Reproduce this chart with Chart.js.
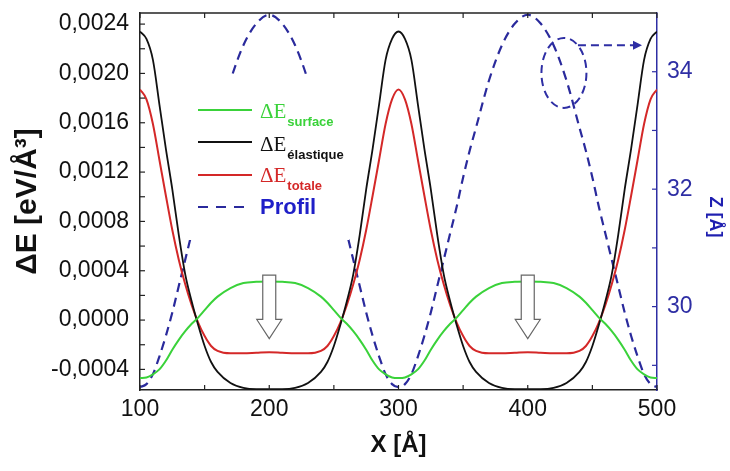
<!DOCTYPE html>
<html>
<head>
<meta charset="utf-8">
<script src="https://cdn.jsdelivr.net/npm/chart.js@4.4.1/dist/chart.umd.min.js"></script>
<style>
  body { margin: 0; background: #fff; }
  canvas { display: block; }
</style>
</head>
<body>
<canvas id="chart" width="730" height="471"></canvas>
<script>
// positions le long de X [Å]
var xs = [100, 105, 110, 115, 120, 125, 130, 135, 140, 145, 150, 155, 160, 170, 180, 190,
          200, 210, 220, 230, 240, 245, 250, 255, 260, 265, 270, 275, 280, 285, 290, 295,
          300, 305, 310, 315, 320, 325, 330, 335, 340, 345, 350, 355, 360, 370, 380, 390,
          400, 410, 420, 430, 440, 445, 450, 455, 460, 465, 470, 475, 480, 485, 490, 495, 500];

// ΔE surface [eV/Å3]
var eSurface = [-0.00047, -0.000465, -0.00044, -0.0004, -0.00033, -0.00024, -0.00016, -0.00009, -0.00003, 0.00002, 0.00008, 0.00014, 0.00019, 0.00026, 0.0003, 0.00031,
                0.000312, 0.00031, 0.0003, 0.00026, 0.00019, 0.00014, 0.00008, 0.00002, -0.00003, -0.00009, -0.00016, -0.00024, -0.00033, -0.0004, -0.00044, -0.000465,
                -0.00047, -0.000465, -0.00044, -0.0004, -0.00033, -0.00024, -0.00016, -0.00009, -0.00003, 0.00002, 0.00008, 0.00014, 0.00019, 0.00026, 0.0003, 0.00031,
                0.000312, 0.00031, 0.0003, 0.00026, 0.00019, 0.00014, 0.00008, 0.00002, -0.00003, -0.00009, -0.00016, -0.00024, -0.00033, -0.0004, -0.00044, -0.000465, -0.00047];

// ΔE élastique
var eElastique = [0.00234, 0.00228, 0.00211, 0.00175, 0.00139, 0.00106, 0.00069, 0.00037, 0.00015, -0.00004, -0.00021, -0.00034, -0.00042, -0.00051, -0.00055, -0.00056,
                  -0.00056, -0.00056, -0.00055, -0.00051, -0.00042, -0.00034, -0.00021, -0.00004, 0.00015, 0.00037, 0.00069, 0.00106, 0.00139, 0.00175, 0.00211, 0.00228,
                  0.00234, 0.00228, 0.00211, 0.00175, 0.00139, 0.00106, 0.00069, 0.00037, 0.00015, -0.00004, -0.00021, -0.00034, -0.00042, -0.00051, -0.00055, -0.00056,
                  -0.00056, -0.00056, -0.00055, -0.00051, -0.00042, -0.00034, -0.00021, -0.00004, 0.00015, 0.00037, 0.00069, 0.00106, 0.00139, 0.00175, 0.00211, 0.00228, 0.00234];

// ΔE totale
var eTotale = [0.00187, 0.00179, 0.00159, 0.0013, 0.00101, 0.00073, 0.00049, 0.00029, 0.00012, -0.00002, -0.00013, -0.00021, -0.00025, -0.00027, -0.00027, -0.000265,
               -0.00026, -0.000265, -0.00027, -0.00027, -0.00025, -0.00021, -0.00013, -0.00002, 0.00012, 0.00029, 0.00049, 0.00073, 0.00101, 0.0013, 0.00159, 0.00179,
               0.00187, 0.00179, 0.00159, 0.0013, 0.00101, 0.00073, 0.00049, 0.00029, 0.00012, -0.00002, -0.00013, -0.00021, -0.00025, -0.00027, -0.00027, -0.000265,
               -0.00026, -0.000265, -0.00027, -0.00027, -0.00025, -0.00021, -0.00013, -0.00002, 0.00012, 0.00029, 0.00049, 0.00073, 0.00101, 0.0013, 0.00159, 0.00179, 0.00187];

// Profil Z [Å] (axe de droite)
var profil = [28.63, 28.68, 28.85, 29.15, 29.5, 29.9, 30.35, 30.8, 31.25, 31.7, 32.2, 32.65, 33.05, 33.85, 34.45, 34.82,
              34.97, 34.82, 34.45, 33.85, 33.05, 32.65, 32.2, 31.7, 31.25, 30.8, 30.35, 29.9, 29.5, 29.15, 28.85, 28.68,
              28.63, 28.68, 28.85, 29.15, 29.5, 29.9, 30.35, 30.8, 31.25, 31.7, 32.2, 32.65, 33.05, 33.85, 34.45, 34.82,
              34.97, 34.82, 34.45, 33.85, 33.05, 32.65, 32.2, 31.7, 31.25, 30.8, 30.35, 29.9, 29.5, 29.15, 28.85, 28.68, 28.63];

var xTicks = [100, 200, 300, 400, 500];
var xMinor = [150, 250, 350, 450];
var eTicks = [-0.0004, 0, 0.0004, 0.0008, 0.0012, 0.0016, 0.002, 0.0024];
var eMinor = [-0.0002, 0.0002, 0.0006, 0.001, 0.0014, 0.0018, 0.0022];
var zTicks = [30, 32, 34];
var zMinor = [29, 31, 33];
var arrowsX = [200, 400]; // flèches creuses

var FONT = "'Liberation Sans', Arial, sans-serif";
var BLUE = '#2e2ea4';

function pts(values) {
    var out = [];
    for (var i = 0; i < xs.length; i++) {
        out.push({ x: xs[i], y: values[i] });
    }
    return out;
}

function setTicks(list) {
    return function (scale) {
        scale.ticks = list.map(function (v) { return { value: v }; });
    };
}

function fitWidth(w) { // largeur fixe de l'axe, sans marge pour les étiquettes
    return function (scale) {
        scale.width = w;
        scale.paddingTop = 0;
        scale.paddingBottom = 0;
    };
}

var decor = {
    id: 'decor',
    afterDatasetsDraw: function (chart) {
        var ctx = chart.ctx;
        var sx = chart.scales.x, sy = chart.scales.y, sz = chart.scales.y2;
        ctx.save();

        // flèches vers le bas
        arrowsX.forEach(function (xv) {
            var cx = sx.getPixelForValue(xv);
            var top = sy.getPixelForValue(0.000365);
            var base = sy.getPixelForValue(0.000005);
            var tip = sy.getPixelForValue(-0.00015);
            ctx.beginPath();
            ctx.moveTo(cx - 6.5, top);
            ctx.lineTo(cx + 6.5, top);
            ctx.lineTo(cx + 6.5, base);
            ctx.lineTo(cx + 12.5, base);
            ctx.lineTo(cx, tip);
            ctx.lineTo(cx - 12.5, base);
            ctx.lineTo(cx - 6.5, base);
            ctx.closePath();
            ctx.fillStyle = '#fff';
            ctx.fill();
            ctx.strokeStyle = '#666';
            ctx.lineWidth = 1.2;
            ctx.stroke();
        });

        // ellipse + flèche pointillée vers l'axe Z
        var ex = sx.getPixelForValue(428), ey = sz.getPixelForValue(33.98);
        ctx.strokeStyle = BLUE;
        ctx.lineWidth = 2;
        ctx.setLineDash([8, 5]);
        ctx.beginPath();
        ctx.ellipse(ex, ey, 22.5, 35, 0, 0, Math.PI * 2);
        ctx.stroke();
        var ay = sz.getPixelForValue(34.45);
        ctx.beginPath();
        ctx.moveTo(ex + 14, ay);
        ctx.lineTo(chart.chartArea.right - 20, ay);
        ctx.stroke();
        ctx.setLineDash([]);
        ctx.fillStyle = BLUE;
        ctx.beginPath();
        ctx.moveTo(chart.chartArea.right - 15, ay);
        ctx.lineTo(chart.chartArea.right - 24, ay - 4.5);
        ctx.lineTo(chart.chartArea.right - 24, ay + 4.5);
        ctx.closePath();
        ctx.fill();

        // légende (fond blanc qui masque le profil)
        ctx.fillStyle = '#fff';
        ctx.fillRect(185, 78, 164, 162);
        var rows = [
            { color: '#3ad23a', sub: 'surface', lineY: 110, base: 118 },
            { color: '#111111', sub: 'élastique', lineY: 142, base: 151 },
            { color: '#d42828', sub: 'totale', lineY: 175, base: 182 }
        ];
        rows.forEach(function (r) {
            ctx.strokeStyle = r.color;
            ctx.lineWidth = 2;
            ctx.beginPath();
            ctx.moveTo(198, r.lineY);
            ctx.lineTo(252, r.lineY);
            ctx.stroke();
            ctx.fillStyle = r.color;
            ctx.textBaseline = 'alphabetic';
            ctx.font = "21px 'Liberation Serif', 'Times New Roman', serif";
            ctx.fillText('ΔE', 260, r.base);
            var w = ctx.measureText('ΔE').width;
            ctx.font = 'bold 13px ' + FONT;
            ctx.fillText(r.sub, 261 + w, r.base + 8);
        });
        ctx.strokeStyle = '#2a2a9c';
        ctx.lineWidth = 2.2;
        ctx.setLineDash([10, 8]);
        ctx.beginPath();
        ctx.moveTo(198, 207);
        ctx.lineTo(252, 207);
        ctx.stroke();
        ctx.setLineDash([]);
        ctx.fillStyle = '#1f1fc8';
        ctx.font = 'bold 22px ' + FONT;
        ctx.fillText('Profil', 260, 214);

        ctx.restore();
    },
    afterDraw: function (chart) {
        var ctx = chart.ctx, a = chart.chartArea;
        var sx = chart.scales.x, sy = chart.scales.y, sz = chart.scales.y2;
        ctx.save();
        ctx.lineWidth = 1.5;
        ctx.strokeStyle = '#222';
        ctx.beginPath();
        ctx.moveTo(a.left, a.top);
        ctx.lineTo(a.right, a.top);
        ctx.stroke();
        // graduations intérieures
        ctx.lineWidth = 1.2;
        xTicks.concat(xMinor).forEach(function (v) {
            var p = sx.getPixelForValue(v);
            ctx.beginPath();
            ctx.moveTo(p, a.bottom); ctx.lineTo(p, a.bottom - 5);
            ctx.moveTo(p, a.top); ctx.lineTo(p, a.top + 5);
            ctx.stroke();
        });
        eTicks.concat(eMinor).forEach(function (v) {
            var p = sy.getPixelForValue(v);
            ctx.beginPath();
            ctx.moveTo(a.left, p); ctx.lineTo(a.left + 5, p);
            ctx.stroke();
        });
        ctx.strokeStyle = BLUE;
        zTicks.concat(zMinor).forEach(function (v) {
            var p = sz.getPixelForValue(v);
            ctx.beginPath();
            ctx.moveTo(a.right, p); ctx.lineTo(a.right - 5, p);
            ctx.stroke();
        });
        // titre de l'axe Z, un peu sous le centre comme dans l'original
        ctx.translate(715, 217);
        ctx.rotate(Math.PI / 2);
        ctx.fillStyle = '#1f1fb0';
        ctx.font = 'bold 18px ' + FONT;
        ctx.textAlign = 'center';
        ctx.textBaseline = 'middle';
        ctx.fillText('Z [Å]', 0, 0);
        ctx.restore();
    }
};

var ctx = document.getElementById('chart');
var chart = new Chart(ctx, {
    type: 'line',
    data: {
        datasets: [{
            label: 'ΔE surface',
            data: pts(eSurface),
            yAxisID: 'y',
            borderColor: '#3ad23a',
            borderWidth: 2,
            pointRadius: 0,
            cubicInterpolationMode: 'monotone'
        }, {
            label: 'ΔE élastique',
            data: pts(eElastique),
            yAxisID: 'y',
            borderColor: '#111111',
            borderWidth: 1.8,
            pointRadius: 0,
            cubicInterpolationMode: 'monotone'
        }, {
            label: 'ΔE totale',
            data: pts(eTotale),
            yAxisID: 'y',
            borderColor: '#d42828',
            borderWidth: 2,
            pointRadius: 0,
            cubicInterpolationMode: 'monotone'
        }, {
            label: 'Profil',
            data: pts(profil),
            yAxisID: 'y2',
            borderColor: '#2a2a9c',
            borderWidth: 2.2,
            borderDash: [9, 6],
            pointRadius: 0,
            cubicInterpolationMode: 'monotone'
        }]
    },
    options: {
        responsive: false,
        animation: false,
        devicePixelRatio: 1,
        layout: { padding: { top: 13, left: 0, right: 0, bottom: 0 } },
        plugins: { legend: { display: false }, tooltip: { enabled: false } },
        scales: {
            x: {
                type: 'linear',
                min: 100,
                max: 500,
                afterBuildTicks: setTicks(xTicks),
                afterFit: function (scale) {
                    scale.height = 81;
                    scale.paddingLeft = 0;
                    scale.paddingRight = 0;
                },
                grid: { display: false, drawTicks: false },
                border: { display: true, color: '#222', width: 1.5 },
                ticks: { color: '#111', padding: 6, font: { family: FONT, size: 23 } },
                title: { display: true, text: 'X [Å]', color: '#111', padding: { top: 0, bottom: 11 }, font: { family: FONT, size: 24, weight: 'bold' } }
            },
            y: {
                type: 'linear',
                position: 'left',
                min: -0.000567,
                max: 0.00249,
                afterBuildTicks: setTicks(eTicks),
                afterFit: fitWidth(140),
                grid: { display: false, drawTicks: false },
                border: { display: true, color: '#222', width: 1.5 },
                ticks: {
                    color: '#111', padding: 11, font: { family: FONT, size: 23 },
                    callback: function (v) { return v.toFixed(4).replace('.', ','); }
                },
                title: { display: true, text: 'ΔE [eV/Å³]', color: '#111', padding: { top: 10, bottom: 0 }, font: { family: FONT, size: 30, weight: 'bold' } }
            },
            y2: {
                type: 'linear',
                position: 'right',
                min: 28.58,
                max: 35.0,
                afterBuildTicks: setTicks(zTicks),
                afterFit: fitWidth(73),
                grid: { display: false, drawTicks: false },
                border: { display: true, color: BLUE, width: 1.5 },
                ticks: { color: BLUE, padding: 10, font: { family: FONT, size: 23 } },
                title: { display: false }
            }
        }
    },
    plugins: [decor]
});
</script>
</body>
</html>
